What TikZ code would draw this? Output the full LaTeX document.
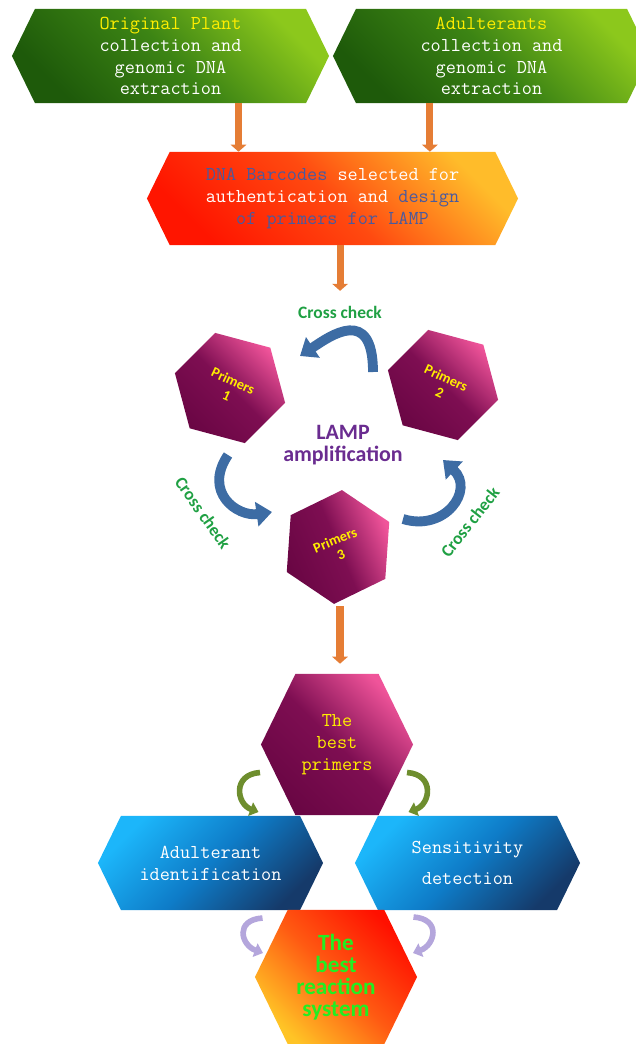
\documentclass[tikz,border=0pt]{standalone}
\usepackage{fontspec}
\newfontfamily\boxfont{Latin Modern Mono}
\newfontfamily\labelfont{Carlito}
\usetikzlibrary{calc,positioning,arrows.meta,shapes.geometric,shapes.symbols}
\definecolor{leafdark}{HTML}{1E5A0A}
\definecolor{leafmid}{HTML}{3C8414}
\definecolor{leaflight}{HTML}{8CC81C}
\definecolor{barred}{HTML}{FF1500}
\definecolor{barorange}{HTML}{FF4A10}
\definecolor{baryellow}{HTML}{FFBC2A}
\definecolor{slateink}{HTML}{4A5A9E}
\definecolor{berrydark}{HTML}{6A0644}
\definecolor{berrymid}{HTML}{7E0E52}
\definecolor{berrypink}{HTML}{F0549A}
\definecolor{skylight}{HTML}{1CB6FA}
\definecolor{skymid}{HTML}{0E7CC8}
\definecolor{skydark}{HTML}{153A6A}
\definecolor{systemred}{HTML}{FF1000}
\definecolor{systemorange}{HTML}{FF5A12}
\definecolor{systemyellow}{HTML}{FFC426}
\definecolor{labelyellow}{HTML}{FFEE00}
\definecolor{checkgreen}{HTML}{1FA043}
\definecolor{systemgreen}{HTML}{22EE22}
\definecolor{lampviolet}{HTML}{6A2C90}
\definecolor{arroworange}{HTML}{E57D35}
\definecolor{swirlblue}{HTML}{3D6CA4}
\definecolor{bendgreen}{HTML}{6E8E2E}
\definecolor{bendlilac}{HTML}{B4A6DC}

\begin{document}
\begin{tikzpicture}[x=0.025cm, y=-0.025cm,
        hexbox/.style={signal, signal to=west and east, signal pointer angle=128, inner sep=0pt, align=center,
            font=\boxfont\fontsize{14}{15.6}\selectfont, text=white},
        greenbox/.style={hexbox, minimum width=7.925cm, minimum height=2.35cm,
            left color=leafdark, right color=leaflight, middle color=leafmid, shading angle=135},
        bluebox/.style={hexbox, minimum width=5.625cm, minimum height=2.35cm,
            left color=skylight, right color=skydark, middle color=skymid, shading angle=45},
        primerhex/.style={regular polygon, regular polygon sides=6, minimum size=2.85cm, inner sep=0pt, align=center,
            left color=berrydark, right color=berrypink, middle color=berrymid,
            font=\labelfont\bfseries\fontsize{10.2}{11}\selectfont, text=labelyellow},
        checklabel/.style={font=\labelfont\bfseries\fontsize{12.4}{14}\selectfont, text=checkgreen},
        flowarrow/.style={draw=arroworange, line width=5pt, -{Triangle[width=11pt,length=5pt]}},
        crossarrow/.style={draw=swirlblue, line width=7pt, -{Triangle[width=17pt,length=11pt]}},
        bendarrow/.style={line width=4pt, -{Triangle[width=10pt,length=6pt]}}]
    \useasboundingbox (0,0) rectangle (636,1044);

    \node[greenbox] (plant) at (170.5,56) {{\color{labelyellow}Original Plant}\\collection and\\genomic DNA\\extraction};
    \node[greenbox] (adulterants) at (491.5,56) {{\color{labelyellow}Adulterants}\\collection and\\genomic DNA\\extraction};
    \node[hexbox, minimum width=9.275cm, minimum height=2.325cm,
        left color=barred, right color=baryellow, middle color=barorange, shading angle=135] (barcodes) at (332.5,198.5)
        {{\color{slateink}DNA Barcodes} selected for\\authentication and {\color{slateink}design}\\{\color{slateink}of primers for LAMP}};

    \node[checklabel] (checktop) at (340,312) {Cross check};
    \node[primerhex, rotate=-25, shape border rotate=70, shading angle=135] (p1) at (230,388) {Primers\\1};
    \node[primerhex, rotate=-25, shape border rotate=70, shading angle=135] (p2) at (443,385) {Primers\\2};
    \node[primerhex, rotate=22, shape border rotate=4, shading angle=113] (p3) at (338,547) {Primers\\3};
    \node[font=\labelfont\bfseries\fontsize{15.6}{15.6}\selectfont, text=lampviolet, align=center] (lamp) at (343,445) {LAMP\\amplification};
    \node[checklabel, rotate=-55] (checkleft) at (203,513) {Cross check};
    \node[checklabel, rotate=52] (checkright) at (470,522) {Cross check};

    \node[hexbox, minimum width=3.8cm, minimum height=3.525cm, text=labelyellow,
        left color=berrydark, right color=berrypink, middle color=berrymid, shading angle=135] (best) at (337,744.5) {The\\best\\primers};
    \node[bluebox] (ident) at (210.5,863) {Adulterant\\identification};
    \node[bluebox] (sens) at (467.5,863) {Sensitivity\\[6pt]detection};
    \node[hexbox, minimum width=4.05cm, minimum height=3.35cm, text=systemgreen,
        font=\labelfont\bfseries\fontsize{16.5}{15.6}\selectfont,
        left color=systemyellow, right color=systemred, middle color=systemorange, shading angle=135] (system) at (336,977)
        {The\\best\\reaction\\system};

    \draw[flowarrow] ([xshift=1.7cm]plant.south) -- ([xshift=1.7cm]plant.south |- barcodes.north);
    \draw[flowarrow] ([xshift=-1.54cm]adulterants.south) -- ([xshift=-1.54cm]adulterants.south |- barcodes.north);
    \draw[flowarrow, shorten >=0.25cm] ([xshift=0.19cm]barcodes.south) -- ([xshift=0.19cm]barcodes.south |- checktop.north);
    \draw[flowarrow] ($(best.north |- p3.south)+(3,13)$) -- ($(best.north)+(3,-10)$);

    \draw[crossarrow] ($(p2)+(-70,-13)$) .. controls +(0,-67) and +(30,-20) .. ($(p1)+(70,-32)$);
    \draw[crossarrow] ($(p1)+(-2,67)$) .. controls +(-25,37) and +(-35,5) .. ($(p3)+(-66,-35)$);
    \draw[crossarrow] ($(p3)+(65,-28)$) .. controls +(42,13) and +(32,30) .. ($(p2)+(0,75)$);

    \draw[bendarrow, draw=bendgreen] ($(best)+(-77,28)$) .. controls +(-28,2) and +(-22,-8) .. ($(ident)+(48,-51)$);
    \draw[bendarrow, draw=bendgreen] ($(best)+(70,28)$) .. controls +(28,2) and +(22,-8) .. ($(sens)+(-59,-51)$);
    \draw[bendarrow, draw=bendlilac] ($(ident)+(52,55)$) .. controls +(-28,2) and +(-22,-8) .. ($(system)+(-73,-24)$);
    \draw[bendarrow, draw=bendlilac] ($(sens)+(-54,54)$) .. controls +(28,2) and +(22,-8) .. ($(system)+(77,-24)$);
\end{tikzpicture}
\end{document}
